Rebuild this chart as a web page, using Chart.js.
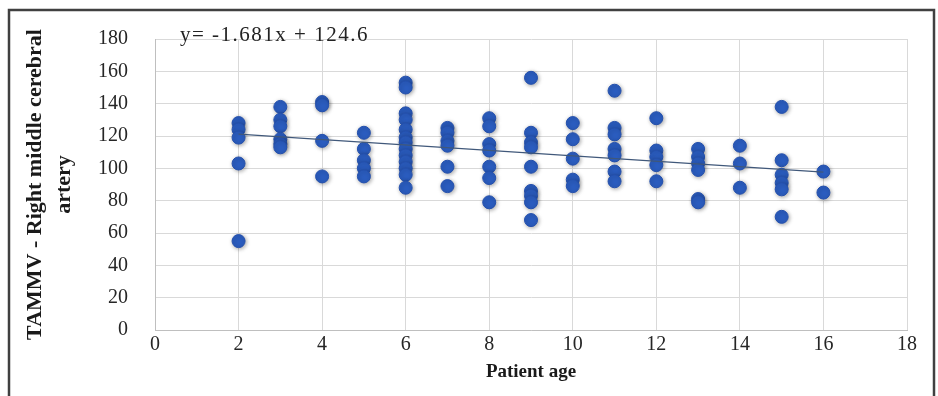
<!DOCTYPE html>
<html>
<head>
<meta charset="utf-8">
<title>TAMMV vs patient age</title>
<script src="https://cdn.jsdelivr.net/npm/chart.js@4.4.1/dist/chart.umd.min.js"></script>
<style>
  html, body { margin: 0; padding: 0; background: #ffffff; }
  #tammvChart { display: block; }
</style>
</head>
<body>
<canvas id="tammvChart" width="938" height="396"></canvas>
<script>
'use strict';

// chart data

let patientAges = [2, 3, 4, 5, 6, 7, 8, 9, 10, 11, 12, 13, 14, 15, 16];

// one list of TAMMV readings per age group (same order as patientAges)
let tammvByAge = [
  [128, 124, 119, 103, 55],
  [138, 130, 126, 118, 115, 113],
  [141, 139, 117, 95],
  [122, 112, 105, 100, 95],
  [153, 150, 134, 130, 124, 119, 116, 112, 108, 104, 100, 96, 88],
  [125, 122, 117, 114, 101, 89],
  [131, 126, 115, 111, 101, 94, 79],
  [156, 122, 116, 113, 101, 86, 83, 79, 68],
  [128, 118, 106, 93, 89],
  [148, 125, 121, 112, 108, 98, 92],
  [131, 111, 107, 102, 92],
  [112, 107, 103, 99, 81, 79],
  [114, 103, 88],
  [138, 105, 96, 91, 87, 70],
  [98, 85]
];

// linear trendline ends, as drawn in the picture
let trendAges = [2, 16];
let trendValues = [121.2, 97.7];
let trendLabel = 'y= -1.681x + 124.6';

let xTicks = [0, 2, 4, 6, 8, 10, 12, 14, 16, 18];
let yTicks = [0, 20, 40, 60, 80, 100, 120, 140, 160, 180];

let xTitle = 'Patient age';
let yTitle = ['TAMMV - Right middle cerebral', 'artery'];

// build point lists for the library

let scatterPoints = [];
for (let i = 0; i < patientAges.length; i++) {
  for (let j = 0; j < tammvByAge[i].length; j++) {
    scatterPoints.push({ x: patientAges[i], y: tammvByAge[i][j] });
  }
}

let trendPoints = [];
for (let i = 0; i < trendAges.length; i++) {
  trendPoints.push({ x: trendAges[i], y: trendValues[i] });
}

let serif = '"Liberation Serif", "Times New Roman", serif';

// soft shadow under the markers, like the office chart
let markerShadow = {
  id: 'markerShadow',
  beforeDatasetDraw(chart, args) {
    if (args.index !== 1) return;
    let ctx = chart.ctx;
    ctx.save();
    ctx.shadowColor = 'rgba(0, 0, 0, 0.35)';
    ctx.shadowBlur = 4;
    ctx.shadowOffsetX = 1;
    ctx.shadowOffsetY = 1;
  },
  afterDatasetDraw(chart, args) {
    if (args.index !== 1) return;
    chart.ctx.restore();
  }
};

// equation text + outer frame
let extras = {
  id: 'extras',
  afterDraw(chart) {
    let ctx = chart.ctx;
    ctx.save();
    ctx.fillStyle = '#222222';
    ctx.font = '21px ' + serif;
    ctx.letterSpacing = '1.5px';
    ctx.textAlign = 'left';
    ctx.textBaseline = 'alphabetic';
    ctx.fillText(trendLabel, 180, 41);
    ctx.letterSpacing = '0px';

    ctx.strokeStyle = '#404040';
    ctx.lineWidth = 2.5;
    ctx.strokeRect(9, 10, 925, 400);
    ctx.restore();
  }
};

const ctx = document.getElementById('tammvChart').getContext('2d');

let tammvChart = new Chart(ctx, {
  type: 'scatter',
  data: {
    datasets: [
      {
        label: 'Linear trend',
        type: 'line',
        data: trendPoints,
        borderColor: '#40587a',
        borderWidth: 1.3,
        pointRadius: 0,
        fill: false,
        order: 0
      },
      {
        label: 'TAMMV',
        data: scatterPoints,
        backgroundColor: '#2b5dc0',
        borderColor: '#2450ad',
        borderWidth: 1,
        pointRadius: 6.5,
        order: 1
      }
    ]
  },
  options: {
    responsive: false,
    animation: false,
    layout: {
      padding: { left: 0, right: 31, top: 33, bottom: 0 }
    },
    plugins: {
      legend: { display: false },
      tooltip: { enabled: false }
    },
    scales: {
      x: {
        type: 'linear',
        min: 0,
        max: 18,
        afterBuildTicks: (scale) => { scale.ticks = xTicks.map(v => ({ value: v })); },
        afterFit: (scale) => { scale.height = 66; },
        ticks: {
          padding: 3,
          color: '#262626',
          font: { family: serif, size: 20 }
        },
        grid: { color: '#d9d9d9', drawTicks: false },
        border: { color: '#bfbfbf' },
        title: {
          display: true,
          text: xTitle,
          color: '#1a1a1a',
          font: { family: serif, size: 19, weight: 'bold' },
          padding: { top: 0, bottom: 13 }
        }
      },
      y: {
        min: 0,
        max: 180,
        afterBuildTicks: (scale) => { scale.ticks = yTicks.map(v => ({ value: v })); },
        afterFit: (scale) => { scale.width = 155; },
        ticks: {
          padding: 27,
          color: '#262626',
          font: { family: serif, size: 20 }
        },
        grid: { color: '#d9d9d9', drawTicks: false },
        border: { color: '#bfbfbf' },
        title: {
          display: true,
          text: yTitle,
          color: '#1a1a1a',
          font: { family: serif, size: 22, weight: 'bold', lineHeight: 1.32 },
          padding: { top: 21, bottom: 0 }
        }
      }
    }
  },
  plugins: [markerShadow, extras]
});
</script>
</body>
</html>
